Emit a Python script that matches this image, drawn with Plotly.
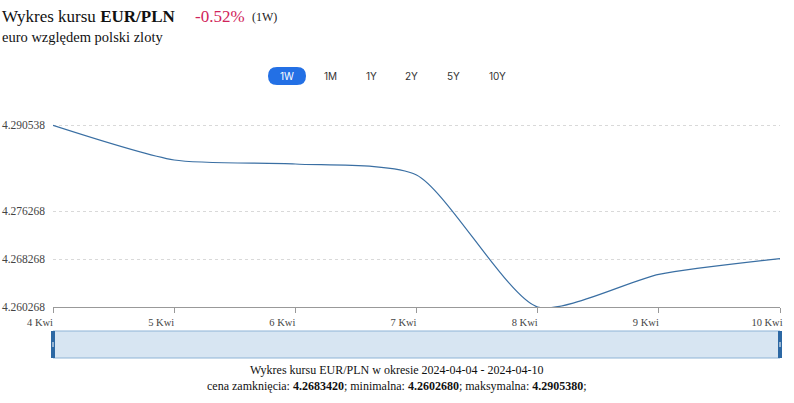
import plotly.graph_objects as go

# ---- data ----
dates = ["2024-04-04", "2024-04-05", "2024-04-06", "2024-04-07",
         "2024-04-08", "2024-04-09", "2024-04-10"]
rates = [4.290538, 4.284768, 4.284101, 4.282268, 4.260268, 4.265718, 4.268342]
x_tick_labels = ["4 Kwi", "5 Kwi", "6 Kwi", "7 Kwi", "8 Kwi", "9 Kwi", "10 Kwi"]
y_tick_vals = [4.260268, 4.268268, 4.276268, 4.290538]
y_tick_text = ["4.260268", "4.268268", "4.276268", "4.290538"]
range_buttons = ["1W", "1M", "1Y", "2Y", "5Y", "10Y"]
title_main = "Wykres kursu <b>EUR/PLN</b>"
change_text = "-0.52%"
period_text = "(1W)"
subtitle = "euro względem polski zloty"
caption1 = "Wykres kursu EUR/PLN w okresie 2024-04-04 - 2024-04-10"
caption2 = ("cena zamknięcia: <b>4.2683420</b>; minimalna: <b>4.2602680</b>; "
            "maksymalna: <b>4.2905380</b>;")

W, H = 794, 403
L, R, T, B = 53, 14, 100, 96
PW, PH = W - L - R, H - T - B


def px(x):
    return (x - L) / PW


def py(y):
    return (H - B - y) / PH


SERIF = "Liberation Serif"
SANS = "Inter, Roboto, Liberation Sans, sans-serif"

fig = go.Figure()
fig.add_trace(go.Scatter(
    x=dates, y=rates, mode="lines",
    line=dict(color="#3a6fa3", width=1.2, shape="spline", smoothing=0.65),
    hoverinfo="x+y", showlegend=False,
))

y0 = 4.260268
fig.update_layout(
    width=W, height=H,
    margin=dict(l=L, r=R, t=T, b=B, pad=0, autoexpand=False),
    paper_bgcolor="white", plot_bgcolor="white",
    xaxis=dict(
        type="date", range=[dates[0], dates[-1]], automargin=False,
        tickvals=dates, ticktext=x_tick_labels,
        ticks="outside", ticklen=5, tickcolor="#999999",
        showline=True, linecolor="#999999", linewidth=1,
        showgrid=False, zeroline=False,
        tickfont=dict(family=SERIF, size=10.5, color="#444444"),
        ticklabelshift=-13,
    ),
    yaxis=dict(
        range=[y0, y0 + PH / 6000.0], automargin=False,
        tickvals=y_tick_vals, ticktext=y_tick_text,
        showgrid=True, gridcolor="#d9d9d9", griddash="3px,3px", gridwidth=1,
        zeroline=False, showline=False, ticks="",
        tickfont=dict(family=SERIF, size=11.5, color="#444444"),
        ticklabelstandoff=7,
    ),
)

annotations = [
    dict(x=px(0), y=py(16), text=title_main, xanchor="left", yanchor="middle",
         font=dict(family=SERIF, size=17, color="#111111")),
    dict(x=px(193), y=py(16), text=change_text, xanchor="left", yanchor="middle",
         font=dict(family=SERIF, size=17, color="#d0245a")),
    dict(x=px(250), y=py(17), text=period_text, xanchor="left", yanchor="middle",
         font=dict(family=SERIF, size=12, color="#222222")),
    dict(x=px(0), y=py(37), text=subtitle, xanchor="left", yanchor="middle",
         font=dict(family=SERIF, size=14.5, color="#111111")),
    dict(x=px(397), y=py(370), text=caption1, xanchor="center", yanchor="middle",
         font=dict(family=SERIF, size=12, color="#111111")),
    dict(x=px(397), y=py(386), text=caption2, xanchor="center", yanchor="middle",
         font=dict(family=SERIF, size=12, color="#111111")),
]
btn_x = [287, 330, 371, 411, 453, 497]
for i, (lbl, bx) in enumerate(zip(range_buttons, btn_x)):
    annotations.append(dict(
        x=px(bx), y=py(76), text=lbl, xanchor="center", yanchor="middle",
        font=dict(family=SANS, size=10, color="white" if i == 0 else "#333333")))
for a in annotations:
    a.update(xref="paper", yref="paper", showarrow=False)
fig.update_layout(annotations=annotations)

shapes = []
# pill for active button
x0b, x1b, y0b, y1b, r = 268, 306, 67, 85, 9
path = (f"M {px(x0b + r)},{py(y0b)} L {px(x1b - r)},{py(y0b)} "
        f"Q {px(x1b)},{py(y0b)} {px(x1b)},{py((y0b + y1b) / 2)} "
        f"Q {px(x1b)},{py(y1b)} {px(x1b - r)},{py(y1b)} "
        f"L {px(x0b + r)},{py(y1b)} "
        f"Q {px(x0b)},{py(y1b)} {px(x0b)},{py((y0b + y1b) / 2)} "
        f"Q {px(x0b)},{py(y0b)} {px(x0b + r)},{py(y0b)} Z")
shapes.append(dict(type="path", path=path, fillcolor="#2370e5", line=dict(width=0),
                   xref="paper", yref="paper"))
# navigator
shapes.append(dict(type="rect", x0=px(53), x1=px(780), y0=py(331), y1=py(358),
                   fillcolor="#d7e5f2", line=dict(color="#8db3d6", width=1),
                   xref="paper", yref="paper"))
for hx in (53, 780):
    shapes.append(dict(type="rect", x0=px(hx - 2), x1=px(hx + 2), y0=py(331), y1=py(358),
                       fillcolor="#2c68a4", line=dict(width=0),
                       xref="paper", yref="paper"))
    shapes.append(dict(type="line", x0=px(hx), x1=px(hx), y0=py(342), y1=py(347),
                       line=dict(color="white", width=1),
                       xref="paper", yref="paper"))
fig.update_layout(shapes=shapes)

fig.write_html("out.html")
